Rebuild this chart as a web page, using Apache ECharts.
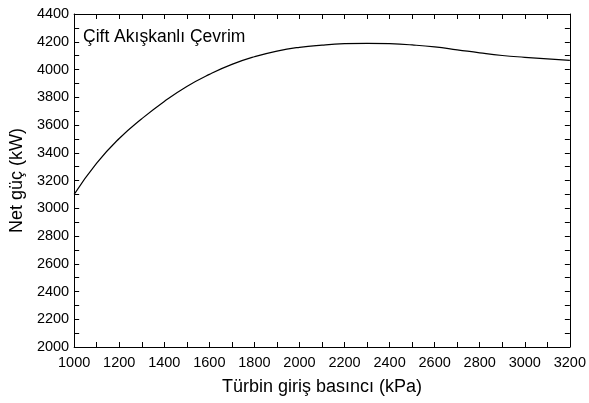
<!DOCTYPE html>
<html><head><meta charset="utf-8">
<script src="https://cdn.jsdelivr.net/npm/echarts@6/dist/echarts.min.js"></script>
<style>html,body{margin:0;padding:0;background:#fff}#c{width:589px;height:403px}</style>
</head><body><div id="c"></div>
<script>
const pressure = [1000,1100,1200,1300,1400,1500,1600,1700,1800,1900,2000,2100,2200,2300,2400,2500,2600,2700,2800,2900,3000,3100,3200];
const netPower = [3100,3325,3503,3645,3770,3878,3965,4037,4092,4133,4160,4176,4186,4189,4186,4177,4163,4142,4120,4101,4088,4077,4066];
const xTitle = 'Türbin giriş basıncı (kPa)';
const yTitle = 'Net güç (kW)';
const label = 'Çift Akışkanlı Çevrim';

const font = 'Liberation Sans, Arial, sans-serif';
const axLine = {show:true, onZero:false, lineStyle:{color:'#000', width:1}};
const tick = {show:true, inside:true, length:5, lineStyle:{color:'#000', width:1}};
const minor = {show:true, splitNumber:2, length:5, lineStyle:{color:'#000', width:1}};
const fmt = v => String(v);
const chart = echarts.init(document.getElementById('c'), null, {renderer:'canvas'});
chart.setOption({
  animation:false,
  backgroundColor:'#fff',
  grid:{left:73, right:17, top:14, bottom:56},
  xAxis:[{
    type:'value', min:1000, max:3200, interval:200, position:'bottom',
    axisLine:axLine, axisTick:tick, minorTick:minor, splitLine:{show:false},
    axisLabel:{color:'#000', fontSize:14.5, fontFamily:font, margin:8, formatter:fmt},
    name:xTitle, nameLocation:'middle', nameGap:31,
    nameTextStyle:{color:'#000', fontSize:18, fontFamily:font}
  },{
    type:'value', min:1000, max:3200, interval:200, position:'top',
    axisLine:axLine, axisTick:tick, minorTick:minor, splitLine:{show:false},
    axisLabel:{show:false}
  }],
  yAxis:[{
    type:'value', min:2000, max:4400, interval:200, position:'left',
    axisLine:axLine, axisTick:tick, minorTick:minor, splitLine:{show:false},
    axisLabel:{color:'#000', fontSize:14.5, fontFamily:font, margin:5, formatter:fmt},
    name:yTitle, nameLocation:'middle', nameGap:46, nameRotate:90,
    nameTextStyle:{color:'#000', fontSize:18, fontFamily:font}
  },{
    type:'value', min:2000, max:4400, interval:200, position:'right',
    axisLine:axLine, axisTick:tick, minorTick:minor, splitLine:{show:false},
    axisLabel:{show:false}
  }],
  graphic:[{
    type:'text', left:83, top:28,
    style:{text:label, fill:'#000', fontSize:17.5, fontFamily:font}
  }],
  series:[{
    type:'line', data:pressure.map((p,i)=>[p,netPower[i]]),
    smooth:true, showSymbol:false, symbol:'none',
    lineStyle:{color:'#000', width:1.2}
  }]
});
</script></body></html>
